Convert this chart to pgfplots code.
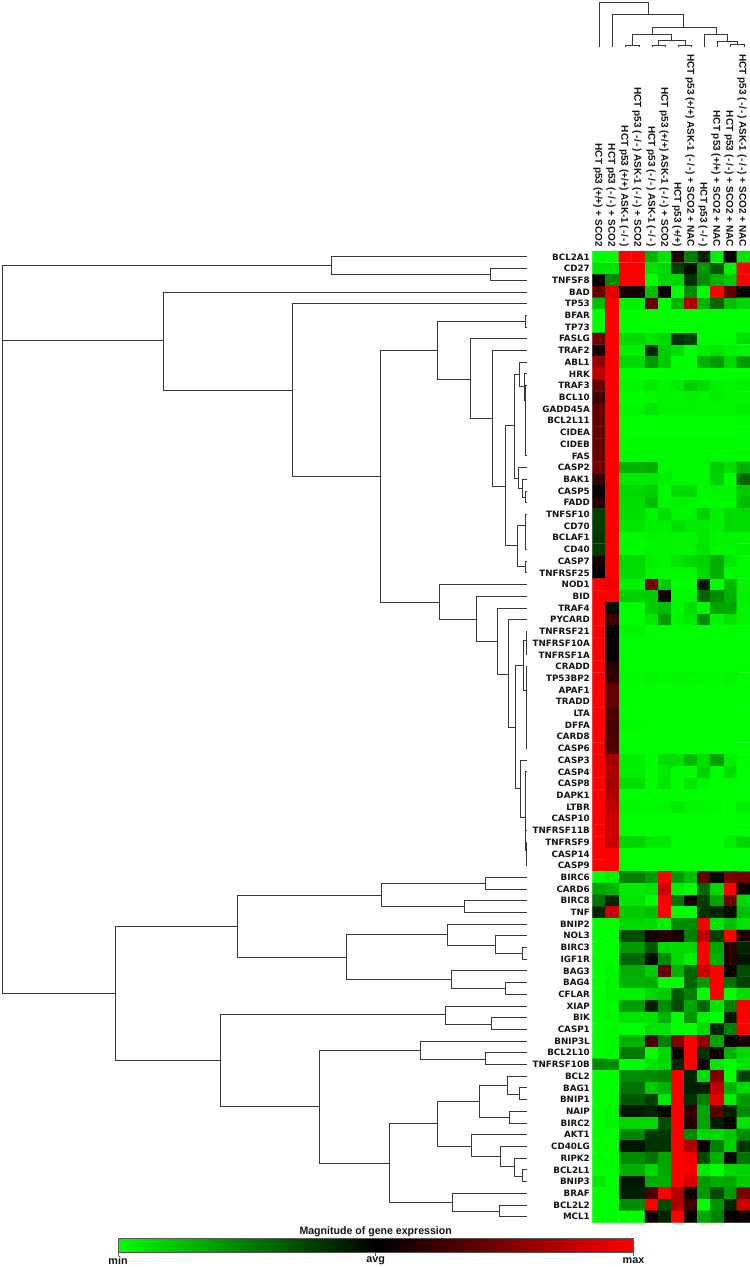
\documentclass[border=0pt]{standalone}
\usepackage{pgfplots}
\pgfplotsset{compat=1.18}
\usepackage{fontspec}
\setmainfont{Liberation Sans}
\newfontfamily\genefont{DejaVu Sans}
\definecolor{treecol}{gray}{0.22}
\definecolor{txt}{gray}{0.08}
\newcommand\N[5]{\addplot[treecol,line width=0.85pt,line join=miter,forget plot] coordinates {(#3,#2)(#1,#2)(#1,#4)(#5,#4)};}
\newcommand\G[2]{\node[anchor=east,inner sep=0pt,text=txt,font=\genefont\bfseries\fontsize{8.75}{10}\selectfont] at (axis cs:590,#1) {#2};}
\newcommand\C[3]{\node[rotate=-90,anchor=east,inner sep=0pt,text=txt,font=\bfseries\fontsize{10}{11}\selectfont] at (axis cs:#1,#2) {#3};}
\newcommand\M{{\kern.12em-\kern.12em}}
\begin{document}
\begin{tikzpicture}
\useasboundingbox (0,0) rectangle (750pt,1267pt);
\begin{axis}[at={(0,0)},anchor=south west,scale only axis,width=750pt,height=1267pt,
  xmin=0,xmax=750,ymin=0,ymax=1267,y dir=reverse,hide axis,clip=false,
  colormap={gbr}{rgb255=(0,255,0) rgb255=(0,0,0) rgb255=(255,0,0)},
  point meta min=-100,point meta max=100]
\addplot[matrix plot,mesh/cols=12,point meta=explicit,draw=mapped color,line width=0.2pt]
 table[row sep=crcr,header=false,x expr={598.9+13.13*mod(\coordindex,12)},y expr={256.85+11.705*floor((\coordindex+0.5)/12)},meta index=0] {
-100\\-100\\100\\100\\-70\\-90\\15\\-50\\-15\\-95\\0\\-90\\
-90\\-90\\100\\100\\-90\\-85\\-25\\-5\\-60\\-35\\-95\\100\\
0\\-55\\100\\100\\-100\\-85\\-85\\-20\\-55\\-70\\-80\\100\\
40\\90\\10\\10\\-75\\0\\-100\\-55\\-100\\100\\40\\0\\
-75\\100\\-95\\-95\\40\\-100\\-70\\70\\-70\\-40\\-75\\-85\\
-100\\100\\-100\\-100\\-100\\-100\\-100\\-100\\-100\\-100\\-100\\-100\\
-100\\100\\-100\\-100\\-100\\-100\\-100\\-100\\-100\\-100\\-100\\-100\\
45\\100\\-85\\-85\\-90\\-85\\-20\\-25\\-100\\-100\\-100\\-88\\
10\\100\\-95\\-95\\-15\\-80\\-88\\-100\\-95\\-90\\-95\\-97\\
60\\100\\-85\\-85\\-60\\-80\\-100\\-100\\-70\\-60\\-85\\-60\\
75\\100\\-100\\-100\\-100\\-100\\-100\\-100\\-100\\-100\\-100\\-100\\
40\\100\\-97\\-97\\-92\\-97\\-92\\-80\\-88\\-95\\-97\\-94\\
25\\100\\-100\\-100\\-98\\-97\\-97\\-95\\-97\\-94\\-97\\-97\\
40\\100\\-97\\-97\\-90\\-96\\-96\\-96\\-97\\-97\\-97\\-93\\
40\\100\\-100\\-100\\-100\\-100\\-100\\-100\\-100\\-100\\-100\\-100\\
40\\100\\-100\\-100\\-100\\-100\\-100\\-100\\-100\\-100\\-100\\-100\\
40\\100\\-98\\-98\\-98\\-98\\-98\\-98\\-98\\-98\\-98\\-98\\
40\\100\\-98\\-98\\-98\\-98\\-98\\-98\\-98\\-98\\-98\\-98\\
45\\100\\-70\\-70\\-68\\-98\\-98\\-98\\-98\\-80\\-88\\-70\\
20\\100\\-92\\-92\\-92\\-95\\-98\\-98\\-98\\-82\\-100\\-40\\
0\\100\\-85\\-85\\-80\\-98\\-88\\-88\\-98\\-97\\-97\\-80\\
15\\100\\-88\\-88\\-75\\-98\\-97\\-97\\-98\\-98\\-98\\-75\\
-25\\100\\-88\\-88\\-96\\-88\\-96\\-96\\-82\\-95\\-88\\-85\\
-25\\100\\-90\\-90\\-94\\-94\\-88\\-92\\-92\\-95\\-86\\-86\\
-22\\100\\-98\\-98\\-97\\-97\\-97\\-97\\-92\\-97\\-96\\-96\\
-22\\100\\-98\\-98\\-97\\-97\\-97\\-97\\-90\\-97\\-97\\-94\\
10\\100\\-85\\-85\\-95\\-97\\-90\\-85\\-82\\-68\\-90\\-98\\
0\\100\\-88\\-88\\-97\\-98\\-98\\-98\\-85\\-68\\-98\\-98\\
100\\95\\-95\\-95\\50\\-80\\-100\\-100\\-10\\-100\\-72\\-97\\
100\\100\\-82\\-82\\-80\\5\\-98\\-98\\-40\\-55\\-70\\-95\\
100\\-5\\-100\\-100\\-80\\-75\\-98\\-88\\-98\\-65\\-65\\-97\\
100\\25\\-100\\-100\\-92\\-60\\-97\\-92\\-55\\-97\\-90\\-97\\
100\\0\\-96\\-96\\-100\\-100\\-100\\-100\\-100\\-100\\-100\\-100\\
100\\2\\-100\\-100\\-100\\-100\\-100\\-100\\-100\\-100\\-100\\-100\\
100\\3\\-100\\-100\\-100\\-100\\-100\\-100\\-100\\-100\\-100\\-100\\
100\\15\\-100\\-100\\-100\\-100\\-100\\-100\\-100\\-100\\-100\\-100\\
100\\20\\-99\\-99\\-96\\-99\\-97\\-97\\-99\\-99\\-96\\-99\\
100\\40\\-100\\-100\\-100\\-100\\-100\\-100\\-100\\-100\\-100\\-100\\
100\\40\\-100\\-100\\-100\\-100\\-100\\-100\\-100\\-100\\-100\\-100\\
100\\30\\-100\\-100\\-100\\-100\\-99\\-100\\-100\\-100\\-100\\-100\\
100\\28\\-98\\-98\\-100\\-100\\-100\\-100\\-100\\-100\\-100\\-100\\
100\\30\\-100\\-100\\-100\\-100\\-100\\-100\\-100\\-100\\-100\\-100\\
100\\32\\-100\\-100\\-100\\-100\\-100\\-100\\-100\\-100\\-100\\-100\\
100\\65\\-94\\-94\\-100\\-88\\-88\\-72\\-88\\-62\\-94\\-100\\
100\\70\\-94\\-94\\-100\\-92\\-100\\-100\\-82\\-100\\-88\\-100\\
100\\65\\-88\\-88\\-100\\-90\\-100\\-90\\-97\\-100\\-100\\-100\\
100\\68\\-100\\-100\\-100\\-100\\-100\\-100\\-100\\-100\\-100\\-100\\
100\\75\\-97\\-97\\-98\\-97\\-92\\-97\\-97\\-98\\-100\\-94\\
100\\80\\-100\\-100\\-100\\-100\\-100\\-100\\-100\\-100\\-100\\-100\\
100\\80\\-100\\-100\\-100\\-100\\-100\\-100\\-100\\-100\\-100\\-100\\
100\\80\\-84\\-84\\-92\\-92\\-100\\-100\\-100\\-100\\-94\\-84\\
100\\100\\-100\\-100\\-100\\-100\\-100\\-100\\-100\\-100\\-100\\-100\\
100\\100\\-100\\-100\\-100\\-100\\-100\\-100\\-100\\-100\\-100\\-100\\
-100\\-95\\-50\\-50\\-60\\100\\-60\\-75\\40\\-5\\50\\45\\
-65\\-70\\-92\\-92\\-90\\80\\-95\\-100\\-40\\-85\\100\\5\\
-45\\-15\\-90\\-90\\-100\\100\\-45\\10\\-25\\-65\\45\\-85\\
-15\\80\\-80\\-80\\-75\\100\\-100\\-100\\-20\\-15\\-5\\-75\\
-100\\-100\\-85\\-85\\-88\\-95\\-55\\-55\\100\\-90\\-75\\-90\\
-100\\-100\\-30\\-30\\10\\15\\10\\-50\\75\\-25\\100\\10\\
-100\\-100\\-60\\-60\\-35\\-85\\-85\\-85\\100\\-65\\15\\-15\\
-100\\-100\\-40\\-40\\-5\\-55\\-85\\-95\\100\\-70\\15\\-8\\
-100\\-97\\-68\\-68\\-80\\40\\-70\\-40\\80\\100\\0\\-30\\
-100\\-97\\-70\\-70\\-68\\-100\\-100\\-40\\-60\\100\\-45\\-25\\
-100\\-97\\-95\\-95\\-85\\-80\\-35\\-50\\-100\\100\\-100\\-88\\
-100\\-98\\-62\\-62\\-12\\-55\\-30\\-65\\-40\\-90\\-50\\100\\
-100\\-98\\-90\\-90\\-90\\-70\\-100\\-60\\-95\\-100\\-10\\100\\
-100\\-98\\-100\\-100\\-90\\-90\\-100\\-100\\-85\\-15\\-50\\100\\
-100\\-98\\-70\\-70\\30\\-50\\50\\100\\55\\-65\\0\\10\\
-100\\-98\\-48\\-48\\-100\\-85\\2\\100\\-20\\5\\-70\\-85\\
-55\\-55\\-100\\-100\\-90\\-85\\-15\\100\\5\\-90\\-100\\-90\\
-100\\-100\\-55\\-55\\-55\\-50\\100\\-15\\-88\\50\\-100\\-25\\
-100\\-100\\-45\\-45\\-80\\-70\\100\\-12\\-12\\75\\-70\\-85\\
-100\\-100\\-35\\-35\\-25\\-92\\100\\-20\\-50\\90\\-95\\-60\\
-100\\-97\\-10\\-10\\-15\\-3\\100\\20\\-65\\35\\-12\\-55\\
-100\\-97\\-85\\-85\\-85\\-30\\100\\15\\-65\\-12\\-2\\-90\\
-100\\-100\\-52\\-52\\-22\\-22\\100\\-55\\-85\\-85\\-78\\-55\\
-100\\-100\\-8\\-8\\-20\\-20\\100\\70\\0\\-50\\-82\\-20\\
-100\\-100\\-55\\-55\\-45\\-65\\100\\95\\-30\\-70\\-5\\-45\\
-100\\-100\\-68\\-68\\-85\\-65\\100\\95\\-92\\-100\\-85\\-82\\
-92\\-100\\-10\\-10\\-68\\-68\\100\\85\\-60\\-68\\-65\\-80\\
-100\\-100\\-12\\-12\\30\\100\\70\\5\\-60\\-30\\-60\\50\\
-100\\-100\\-55\\-55\\100\\-30\\70\\25\\-100\\-58\\-15\\80\\
-100\\-100\\-100\\-100\\5\\-15\\100\\0\\-65\\-52\\0\\5\\
};
% column dendrogram
\addplot[treecol,line width=0.85pt,forget plot] coordinates {(599.5,46.5)(599.5,2)(648,2)(648,14)};
\addplot[treecol,line width=0.85pt,forget plot] coordinates {(612.7,46.5)(612.7,14)(683.3,14)(683.3,27)};
\addplot[treecol,line width=0.85pt,forget plot] coordinates {(652.3,34.5)(652.3,27)(716,27)(716,34.5)};
\addplot[treecol,line width=0.85pt,forget plot] coordinates {(632.3,45)(632.3,34.5)(671.7,34.5)(671.7,40.7)};
\addplot[treecol,line width=0.85pt,forget plot] coordinates {(625.7,46.5)(625.7,45)(639,45)(639,46.5)};
\addplot[treecol,line width=0.85pt,forget plot] coordinates {(658.3,45)(658.3,40.7)(685,40.7)(685,45)};
\addplot[treecol,line width=0.85pt,forget plot] coordinates {(652,46.5)(652,45)(665,45)(665,46.5)};
\addplot[treecol,line width=0.85pt,forget plot] coordinates {(678,46.5)(678,45)(691.5,45)(691.5,46.5)};
\addplot[treecol,line width=0.85pt,forget plot] coordinates {(704.3,46.5)(704.3,34.5)(727.3,34.5)(727.3,41.7)};
\addplot[treecol,line width=0.85pt,forget plot] coordinates {(717.3,46.5)(717.3,41.7)(737.3,41.7)(737.3,44)};
\addplot[treecol,line width=0.85pt,forget plot] coordinates {(730.7,46.5)(730.7,44)(744,44)(744,46.5)};
% row dendrogram
\addplot[treecol,line width=0.85pt,forget plot] coordinates {(331,265.7)(2,265.7)(2,993)(115,993)};
\addplot[treecol,line width=0.85pt,forget plot] coordinates {(2,340.7)(163,340.7)};
\N{163}{292}{527}{390}{292}
\N{331}{256.85}{527}{274}{490}
\N{490}{268.56}{527}{280.26}{527}
\N{292}{303.67}{527}{476}{380}
\N{380}{350}{437}{602}{439}
\N{437}{321}{525}{379}{470}
\N{525.5}{315.38}{527}{327.08}{527}
\N{470}{338.79}{527}{418.7}{492}
\N{492}{350.49}{527}{486}{505}
\N{505}{425.7}{514.3}{545}{517.7}
\N{514.3}{374}{519.7}{478}{518.7}
\N{519.7}{362.2}{527}{386}{524}
\N{524}{373.9}{527}{400}{525.5}
\N{525.5}{385.61}{527}{455.84}{527}
\N{518.7}{467.54}{527}{488}{522}
\N{522}{479.25}{527}{497}{525.7}
\N{525.7}{490.95}{527}{502.66}{527}
\N{517.7}{525}{525}{566.7}{525}
\N{525}{514.36}{527}{549.48}{527}
\N{525}{561.18}{527}{572.89}{527}
\N{439}{584.59}{527}{619}{476.7}
\N{476.7}{596.3}{527}{641}{497.7}
\N{497.7}{608}{527}{674}{508.7}
\N{508.7}{619.71}{527}{727}{515.7}
\N{515.7}{665}{523.7}{788.7}{520.3}
\N{523.7}{640.7}{526}{690.7}{526}
\N{526}{631.41}{527}{654.82}{527}
\N{526}{666.53}{527}{748.46}{527}
\N{520.3}{760.17}{527}{817}{525.2}
\N{525.2}{771.87}{527}{830.4}{527}
\N{526}{842.1}{527}{865.51}{527}
\addplot[treecol,line width=0.85pt,forget plot] coordinates {(525.2,830.4)(525.2,850)(526,850)};
\N{115}{926.3}{237.5}{1060.7}{220.5}
\N{237.5}{895}{381}{957}{346.7}
\N{381}{883.3}{485.3}{906.7}{464.3}
\N{485.3}{877.22}{527}{888.92}{527}
\N{464.3}{900.63}{527}{912.33}{527}
\N{346.7}{934.3}{447.3}{979.3}{451.7}
\N{447.3}{924.04}{527}{945}{495.7}
\N{495.7}{935.74}{527}{953.3}{522.3}
\N{522.3}{947.45}{527}{959.15}{527}
\N{451.7}{970.86}{527}{988.7}{505.7}
\N{505.7}{982.56}{527}{994.27}{527}
\N{220.5}{1014.7}{445.3}{1106.3}{319.7}
\N{445.3}{1005.97}{527}{1024}{491.3}
\N{491.3}{1017.68}{527}{1029.38}{527}
\N{319.7}{1050}{420}{1163.3}{389}
\N{420}{1041.09}{527}{1059}{485.3}
\N{485.3}{1052.79}{527}{1064.5}{527}
\N{389}{1123.3}{437.3}{1202}{452.3}
\N{437.3}{1101}{479.3}{1146}{471.3}
\N{479.3}{1085}{507.7}{1117.3}{509.7}
\N{507.7}{1076.2}{527}{1094}{519.7}
\N{519.7}{1087.91}{527}{1099.61}{527}
\N{509.7}{1111.32}{527}{1123.02}{527}
\N{471.3}{1134.73}{527}{1156.7}{500.3}
\N{500.3}{1146.43}{527}{1166.7}{514.7}
\N{514.7}{1158.14}{527}{1176}{522.7}
\N{522.7}{1169.84}{527}{1181.55}{527}
\N{452.3}{1193.25}{527}{1211}{499.7}
\N{499.7}{1204.96}{527}{1216.66}{527}
% column labels
\C{598}{247}{HCT p53 (+/+) + SCO2}
\C{611}{247}{HCT p53 (\M/\M) + SCO2}
\C{624}{247}{HCT p53 (+/+) ASK-1 (\M/\M)}
\C{637}{247}{HCT p53 (\M/\M) ASK-1 (\M/\M) + SCO2}
\C{651}{247}{HCT p53 (\M/\M) ASK-1 (\M/\M)}
\C{664}{247}{HCT p53 (+/+) ASK-1 (\M/\M) + SCO2}
\C{677}{247}{HCT p53 (+/+)}
\C{690}{247}{HCT p53 (+/+) ASK-1 (\M/\M) + SCO2 + NAC}
\C{703}{247}{HCT p53 (\M/\M)}
\C{716}{247}{HCT p53 (+/+) + SCO2 + NAC}
\C{729}{247}{HCT p53 (\M/\M) + SCO2 + NAC}
\C{742}{247}{HCT p53 (\M/\M) ASK-1 (\M/\M) + SCO2 + NAC}
% gene labels
\G{256.85}{BCL2A1}\G{268.56}{CD27}\G{280.26}{TNFSF8}\G{291.97}{BAD}\G{303.67}{TP53}
\G{315.38}{BFAR}\G{327.08}{TP73}\G{338.79}{FASLG}\G{350.49}{TRAF2}\G{362.2}{ABL1}
\G{373.9}{HRK}\G{385.61}{TRAF3}\G{397.31}{BCL10}\G{409.02}{GADD45A}\G{420.72}{BCL2L11}
\G{432.43}{CIDEA}\G{444.13}{CIDEB}\G{455.84}{FAS}\G{467.54}{CASP2}\G{479.25}{BAK1}
\G{490.95}{CASP5}\G{502.66}{FADD}\G{514.36}{TNFSF10}\G{526.07}{CD70}\G{537.77}{BCLAF1}
\G{549.48}{CD40}\G{561.18}{CASP7}\G{572.89}{TNFRSF25}\G{584.59}{NOD1}\G{596.3}{BID}
\G{608}{TRAF4}\G{619.71}{PYCARD}\G{631.41}{TNFRSF21}\G{643.12}{TNFRSF10A}\G{654.82}{TNFRSF1A}
\G{666.53}{CRADD}\G{678.23}{TP53BP2}\G{689.94}{APAF1}\G{701.64}{TRADD}\G{713.35}{LTA}
\G{725.05}{DFFA}\G{736.76}{CARD8}\G{748.46}{CASP6}\G{760.17}{CASP3}\G{771.87}{CASP4}
\G{783.58}{CASP8}\G{795.28}{DAPK1}\G{806.99}{LTBR}\G{818.69}{CASP10}\G{830.4}{TNFRSF11B}
\G{842.1}{TNFRSF9}\G{853.81}{CASP14}\G{865.51}{CASP9}\G{877.22}{BIRC6}\G{888.92}{CARD6}
\G{900.63}{BIRC8}\G{912.33}{TNF}\G{924.04}{BNIP2}\G{935.74}{NOL3}\G{947.45}{BIRC3}
\G{959.15}{IGF1R}\G{970.86}{BAG3}\G{982.56}{BAG4}\G{994.27}{CFLAR}\G{1005.97}{XIAP}
\G{1017.68}{BIK}\G{1029.38}{CASP1}\G{1041.09}{BNIP3L}\G{1052.79}{BCL2L10}\G{1064.5}{TNFRSF10B}
\G{1076.2}{BCL2}\G{1087.91}{BAG1}\G{1099.61}{BNIP1}\G{1111.32}{NAIP}\G{1123.02}{BIRC2}
\G{1134.73}{AKT1}\G{1146.43}{CD40LG}\G{1158.14}{RIPK2}\G{1169.84}{BCL2L1}\G{1181.55}{BNIP3}
\G{1193.25}{BRAF}\G{1204.96}{BCL2L2}\G{1216.66}{MCL1}
% colour scale
\fill[left color={rgb,255:red,0;green,255;blue,0},right color=red,middle color=black] (axis cs:118,1238) rectangle (axis cs:633.5,1252);
\draw[gray!70!black,line width=0.7pt] (axis cs:118,1238) rectangle (axis cs:633.5,1252);
\draw[gray!70!black,line width=0.7pt] (axis cs:118,1252)--(axis cs:118,1256) (axis cs:375.7,1252)--(axis cs:375.7,1256) (axis cs:633.5,1252)--(axis cs:633.5,1256);
\node[font=\bfseries\fontsize{10.8}{12}\selectfont,text=txt,inner sep=0pt,xscale=0.98] at (axis cs:375.7,1232) {Magnitude of gene expression};
\node[font=\bfseries\fontsize{10.8}{12}\selectfont,text=txt,inner sep=0pt] at (axis cs:118,1260.5) {min};
\node[font=\bfseries\fontsize{10.8}{12}\selectfont,text=txt,inner sep=0pt] at (axis cs:375.7,1260.5) {avg};
\node[font=\bfseries\fontsize{10.8}{12}\selectfont,text=txt,inner sep=0pt] at (axis cs:633.5,1260.5) {max};
\end{axis}
\end{tikzpicture}
\end{document}
